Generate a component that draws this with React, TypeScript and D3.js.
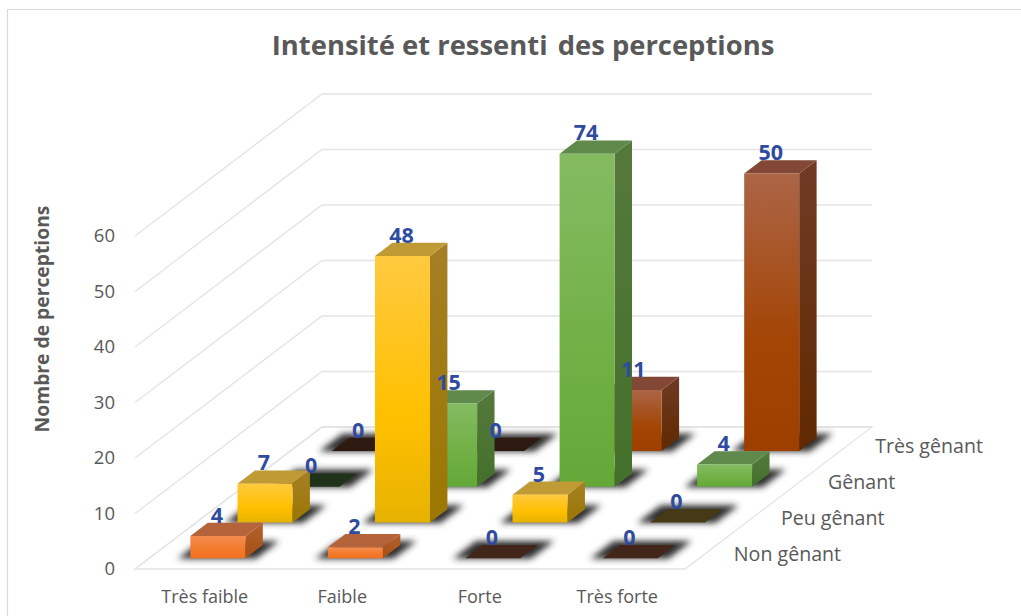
import React from 'react';
import * as d3 from 'd3';

const width = 1021;
const height = 616;

const categories = ['Très faible', 'Faible', 'Forte', 'Très forte'];
const depthLabels = ['Non gênant', 'Peu gênant', 'Gênant', 'Très gênant'];

const nonGenant = [4, 2, 0, 0];
const peuGenant = [7, 48, 5, 0];
const genant = [0, 15, 74, 4];
const tresGenant = [0, 0, 11, 50];
const seriesValues = [nonGenant, peuGenant, genant, tresGenant];

// one palette per series: front gradient, top, side gradient, flat colour of a 0 bar
const palettes = [
  { id: 'orange', front: ['#f58c50', '#f37a2c', '#f2701d'], top: '#b5633a', side: ['#b5602f', '#a64f14'], zero: '#42261a' },
  { id: 'yellow', front: ['#ffc93f', '#ffc000', '#e6b200'], top: '#c09a35', side: ['#a57f25', '#9c7700'], zero: '#463915' },
  { id: 'green', front: ['#84bb62', '#70b044', '#64a838'], top: '#5f8a4b', side: ['#55793c', '#43702a'], zero: '#20321a' },
  { id: 'brown', front: ['#ac6547', '#a34505', '#9e3f00'], top: '#824835', side: ['#6f3b25', '#602900'], zero: '#2e1a10' },
];

const titleColor = '#595959';
const tickColor = '#595959';
const gridColor = '#e4e4e4';
const labelColor = '#2f4b9f';
const font = '"Open Sans", sans-serif';

// oblique projection of the floor
const originX = 135;
const originY = 569;
const floorWidth = 550;
const floorDepth = 142;
const skew = 187 / 142;
const wallHeight = 333;

const project = (x: number, depth: number, h: number): [number, number] => [
  originX + x + depth * skew,
  originY - depth - h,
];

const poly = d3.line().curve(d3.curveLinearClosed);

const x = d3.scaleBand<string>().domain(categories).range([0, floorWidth]).paddingInner(0.6).paddingOuter(0.3);
const depth = d3.scaleBand<string>().domain(depthLabels).range([0, floorDepth]).paddingInner(0.63).paddingOuter(0.3);
// the axis stops at 60: the 74 bar is cut at the top of the wall
const y = d3.scaleLinear().domain([0, 60]).range([0, wallHeight]).clamp(true);

const Bar = ({ category, row, value }: { category: string; row: number; value: number }) => {
  const p = palettes[row];
  const x0 = x(category) as number;
  const x1 = x0 + x.bandwidth();
  const d0 = depth(depthLabels[row]) as number;
  const d1 = d0 + depth.bandwidth();
  const h = y(value);

  if (value === 0) {
    return <path d={poly([project(x0, d0, 0), project(x1, d0, 0), project(x1, d1, 0), project(x0, d1, 0)]) as string} fill={p.zero} />;
  }
  return (
    <g>
      <path d={poly([project(x1, d0, 0), project(x1, d1, 0), project(x1, d1, h), project(x1, d0, h)]) as string} fill={`url(#${p.id}-side)`} />
      <path d={poly([project(x0, d0, h), project(x1, d0, h), project(x1, d1, h), project(x0, d1, h)]) as string} fill={p.top} />
      <path d={poly([project(x0, d0, 0), project(x1, d0, 0), project(x1, d0, h), project(x0, d0, h)]) as string} fill={`url(#${p.id}-front)`} />
    </g>
  );
};

const Shadow = ({ category, row }: { category: string; row: number }) => {
  const x0 = (x(category) as number) - 12;
  const x1 = (x(category) as number) + x.bandwidth() + 11;
  const d0 = (depth(depthLabels[row]) as number) - 0.5;
  const d1 = d0 + depth.bandwidth() + 4.5;
  return (
    <path
      d={poly([project(x0, d0, 0), project(x1, d0, 0), project(x1, d1, 0), project(x0, d1, 0)]) as string}
      fill="#2e2e2e"
      filter="url(#floor-shadow)"
    />
  );
};

export default function App() {
  const rows = depthLabels.map((_, i) => i).reverse();
  const ticks = y.ticks(6);

  return (
    <svg width={width} height={height} style={{ position: 'absolute', left: 0, top: 0, background: '#ffffff' }} fontFamily={font}>
      <defs>
        <filter id="floor-shadow" x="-40%" y="-80%" width="180%" height="260%">
          <feGaussianBlur stdDeviation="3.2" />
        </filter>
        {palettes.map((p) => (
          <React.Fragment key={p.id}>
            <linearGradient id={`${p.id}-front`} x1="0" y1="0" x2="0" y2="1">
              <stop offset="0%" stopColor={p.front[0]} />
              <stop offset="60%" stopColor={p.front[1]} />
              <stop offset="100%" stopColor={p.front[2]} />
            </linearGradient>
            <linearGradient id={`${p.id}-side`} x1="0" y1="0" x2="0" y2="1">
              <stop offset="0%" stopColor={p.side[0]} />
              <stop offset="100%" stopColor={p.side[1]} />
            </linearGradient>
          </React.Fragment>
        ))}
      </defs>

      {/* chart frame, only top and left are inside the picture */}
      <path d={`M7.5,${height} V9.5 H${width}`} fill="none" stroke="#d9d9d9" strokeWidth={1.2} />

      <text x={523} y={55} textAnchor="middle" fontSize={27.4} fontWeight={700} fill={titleColor}>
        Intensité et ressenti <tspan dx={3}>des perceptions</tspan>
      </text>
      <text
        transform="translate(49,319) rotate(-90)"
        textAnchor="middle"
        fontSize={19.3}
        fontWeight={700}
        fill={titleColor}
      >
        Nombre de perceptions
      </text>

      {/* walls */}
      {ticks.map((t) => {
        const front = project(0, 0, y(t));
        const corner = project(0, floorDepth, y(t));
        const end = project(floorWidth, floorDepth, y(t));
        return (
          <g key={t}>
            <path d={d3.line()([front, corner, end]) as string} fill="none" stroke={gridColor} strokeWidth={1.3} />
            <text x={115} y={front[1]} dy="0.35em" textAnchor="end" fontSize={18.5} fill={tickColor}>
              {t}
            </text>
          </g>
        );
      })}

      {/* floor */}
      <path
        d={poly([project(0, 0, 0), project(floorWidth, 0, 0), project(floorWidth, floorDepth, 0), project(0, floorDepth, 0)]) as string}
        fill="none"
        stroke={gridColor}
        strokeWidth={1.3}
      />

      {/* back row first so the front rows cover it */}
      {rows.map((row) => (
        <g key={row}>
          {categories.map((c) => (
            <Shadow key={c} category={c} row={row} />
          ))}
          {categories.map((c, i) => (
            <Bar key={c} category={c} row={row} value={seriesValues[row][i]} />
          ))}
        </g>
      ))}

      {rows.map((row) =>
        categories.map((c, i) => {
          const value = seriesValues[row][i];
          const d1 = (depth(depthLabels[row]) as number);
          const top = project((x(c) as number) + x.bandwidth() / 2, d1, y(value));
          return (
            <text
              key={`${row}-${c}`}
              x={top[0] - 1}
              y={top[1] - depth.bandwidth()}
              textAnchor="middle"
              fontSize={21.5}
              fontWeight={700}
              fill={labelColor}
            >
              {value}
            </text>
          );
        })
      )}

      {categories.map((c) => (
        <text key={c} x={originX + (x(c) as number) + x.bandwidth() / 2 + 1} y={603} textAnchor="middle" fontSize={18} fill={tickColor}>
          {c}
        </text>
      ))}

      {depthLabels.map((d) => {
        const p = project(floorWidth, (depth(d) as number) + depth.bandwidth() / 2, 0);
        return (
          <text key={d} x={p[0] + 26} y={p[1] + 2} dy="0.35em" fontSize={19.6} fill={tickColor}>
            {d}
          </text>
        );
      })}
    </svg>
  );
}
